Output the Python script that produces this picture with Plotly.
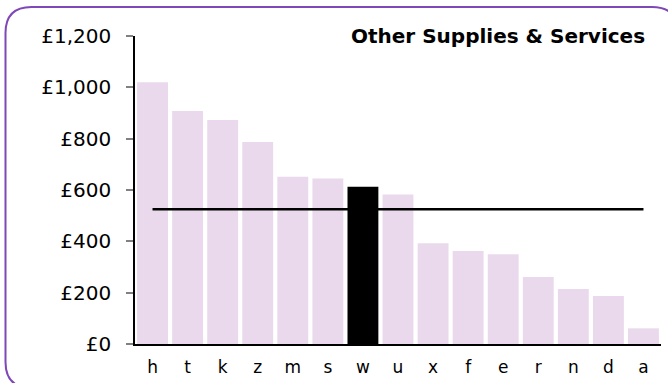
import plotly.graph_objects as go

# Spend per area, sorted high to low
areas = ["h", "t", "k", "z", "m", "s", "w", "u", "x", "f", "e", "r", "n", "d", "a"]
spend = [1020, 908, 873, 787, 652, 645, 613, 582, 393, 362, 350, 261, 214, 187, 61]
highlight = "w"
average = 525

y_ticks = [0, 200, 400, 600, 800, 1000, 1200]
y_tick_text = ["£0", "£200", "£400", "£600", "£800", "£1,000", "£1,200"]

W, H = 668, 383
ML, MR, MT, MB = 135, 7, 36, 39
PW, PH = W - ML - MR, H - MT - MB

bar_colors = ["#000000" if a == highlight else "#EAD8EC" for a in areas]

fig = go.Figure()
fig.add_trace(go.Bar(
    x=areas, y=spend, marker_color=bar_colors, marker_line_width=0,
    showlegend=False, hoverinfo="x+y",
))
fig.add_trace(go.Scatter(
    x=areas, y=[average] * len(areas), mode="lines",
    line=dict(color="#000000", width=2.5), showlegend=False, hoverinfo="skip",
))


def px(x):
    return (x - ML) / PW


def py(y):
    return (H - MB - y) / PH


# Rounded purple frame around the whole chart
x0, x1, y0, y1, r = 5.5, 678, 7, 388, 26
frame = (
    f"M {px(x0)},{py(y0 + r)} "
    f"Q {px(x0)},{py(y0)} {px(x0 + r)},{py(y0)} "
    f"L {px(x1 - r)},{py(y0)} "
    f"Q {px(x1)},{py(y0)} {px(x1)},{py(y0 + r)} "
    f"L {px(x1)},{py(y1 - r)} "
    f"Q {px(x1)},{py(y1)} {px(x1 - r)},{py(y1)} "
    f"L {px(x0 + r)},{py(y1)} "
    f"Q {px(x0)},{py(y1)} {px(x0)},{py(y1 - r)} Z"
)

fig.update_layout(
    width=W, height=H,
    margin=dict(l=ML, r=MR, t=MT, b=MB),
    paper_bgcolor="white", plot_bgcolor="white",
    font=dict(family="DejaVu Sans", color="#000000"),
    bargap=0.12,
    shapes=[dict(type="path", path=frame, xref="paper", yref="paper",
                 line=dict(color="#7E48B8", width=2), layer="above")],
    annotations=[dict(
        text="<b>Other Supplies & Services</b>", x=px(647), y=py(36),
        xref="paper", yref="paper", xanchor="right", yanchor="middle",
        showarrow=False, font=dict(size=20, family="DejaVu Sans", color="#000000"),
    )],
)
fig.update_xaxes(
    showline=True, linecolor="#000000", linewidth=1.5, ticks="",
    tickfont=dict(size=17), showgrid=False, ticklabelstandoff=7,
)
fig.update_yaxes(
    range=[0, 1200], tickvals=y_ticks, ticktext=y_tick_text,
    showline=True, linecolor="#000000", linewidth=1.5,
    ticks="outside", ticklen=7, tickcolor="#808080", tickwidth=1.5,
    tickfont=dict(size=20), showgrid=False, zeroline=False,
    ticklabelstandoff=11,
)

fig.write_html("out.html")
